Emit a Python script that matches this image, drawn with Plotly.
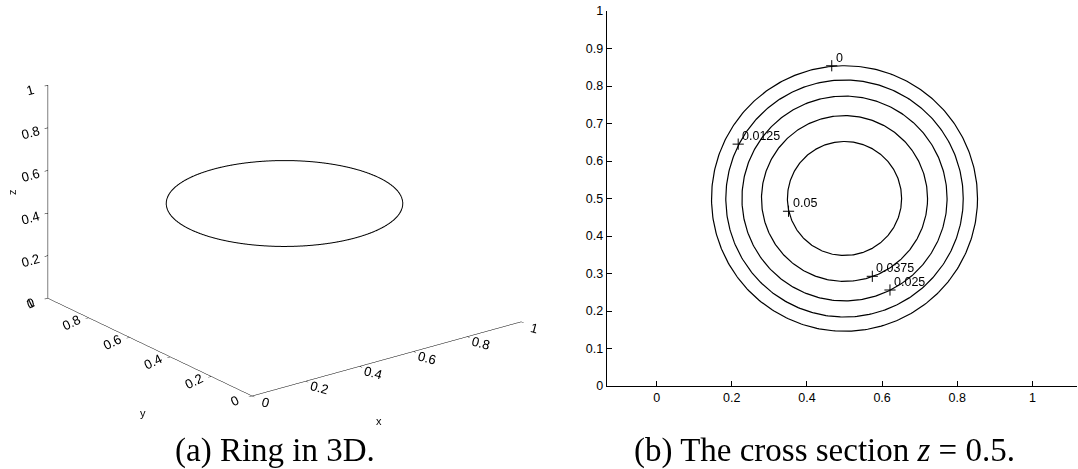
import numpy as np
import plotly.graph_objects as go

W, H = 1078, 469

# ---- data ----
ring_center = [0.5, 0.5, 0.5]
ring_radius = 0.35

contour_levels = [0, 0.0125, 0.025, 0.0375, 0.05]
contour_labels = ["0", "0.0125", "0.025", "0.0375", "0.05"]
contour_radii = [0.354, 0.316, 0.273, 0.221, 0.152]
contour_center = [0.5, 0.5]
label_x = [0.466, 0.217, 0.621, 0.574, 0.351]
label_y = [0.854, 0.645, 0.256, 0.2925, 0.466]

ticks3d = [0, 0.2, 0.4, 0.6, 0.8, 1]
ticks3d_text = ["0", "0.2", "0.4", "0.6", "0.8", "1"]
xticks2d = [0, 0.2, 0.4, 0.6, 0.8, 1]
xticks2d_text = ["0", "0.2", "0.4", "0.6", "0.8", "1"]
yticks2d = [0, 0.1, 0.2, 0.3, 0.4, 0.5, 0.6, 0.7, 0.8, 0.9, 1]
yticks2d_text = ["0", "0.1", "0.2", "0.3", "0.4", "0.5", "0.6", "0.7", "0.8", "0.9", "1"]

caption_a = "(a) Ring in 3D."
caption_b = "(b) The cross section <i>z</i> = 0.5."

FONT = "Liberation Sans, Arial, sans-serif"
SERIF = "Liberation Serif, Times New Roman, serif"
TS = 12.5

fig = go.Figure()

# ---- left: ring in 3D ----
t = np.linspace(0, 2 * np.pi, 361)
fig.add_trace(go.Scatter3d(
    x=ring_center[0] + ring_radius * np.cos(t),
    y=ring_center[1] + ring_radius * np.sin(t),
    z=np.full_like(t, ring_center[2]),
    mode="lines", line=dict(color="black", width=2),
    showlegend=False, hoverinfo="skip", scene="scene"))

# ---- right: contours ----
for lev, r in zip(contour_levels, contour_radii):
    fig.add_trace(go.Scatter(
        x=contour_center[0] + r * np.cos(t),
        y=contour_center[1] + r * np.sin(t),
        mode="lines", line=dict(color="black", width=1.2),
        showlegend=False, hoverinfo="skip", xaxis="x", yaxis="y"))

fig.add_trace(go.Scatter(
    x=label_x, y=label_y, mode="markers",
    marker=dict(symbol="cross-thin", size=8, color="black",
                line=dict(color="black", width=1)),
    showlegend=False, hoverinfo="skip", xaxis="x", yaxis="y"))

label_annotations = [
    dict(text=txt, x=lx, y=ly, xref="x", yref="y", xanchor="left", yanchor="bottom",
         xshift=2, yshift=-1, showarrow=False,
         font=dict(family=FONT, size=TS, color="black"))
    for txt, lx, ly in zip(contour_labels, label_x, label_y)
]

# 3D axis titles (placed in the page, beside the projected axes)
title_annotations = [
    dict(text="x", x=379 / W, y=1 - 421 / H, xref="paper", yref="paper",
         xanchor="center", yanchor="middle", showarrow=False,
         font=dict(family=FONT, size=11, color="black")),
    dict(text="y", x=143 / W, y=1 - 413 / H, xref="paper", yref="paper",
         xanchor="center", yanchor="middle", showarrow=False,
         font=dict(family=FONT, size=11, color="black")),
    dict(text="z", x=12 / W, y=1 - 192 / H, xref="paper", yref="paper", textangle=-90,
         xanchor="center", yanchor="middle", showarrow=False,
         font=dict(family=FONT, size=11, color="black")),
]

# camera
beta = np.deg2rad(37.2)
phi = np.deg2rad(21.3)
eye_dir = np.array([-np.sin(beta) * np.cos(phi), -np.cos(beta) * np.cos(phi), np.sin(phi)])
eye = 1.5 * eye_dir
S = 1.66

ax3 = dict(range=[0, 1], tickvals=ticks3d, ticktext=ticks3d_text,
           showgrid=False, showbackground=False, zeroline=False,
           showline=True, linecolor="black", linewidth=1,
           ticks="outside", ticklen=4, tickcolor="black",
           showspikes=False, title=dict(text=""),
           tickfont=dict(family=FONT, size=TS, color="black"))

fig.update_layout(
    width=W, height=H, margin=dict(l=0, r=0, t=0, b=0, autoexpand=False),
    paper_bgcolor="white", plot_bgcolor="white",
    font=dict(family=FONT, color="black"),
    scene=dict(
        domain=dict(x=[0, 569.2 / W], y=[1 - 406.8 / H, 1]),
        xaxis=dict(ax3, tickangle=15),
        yaxis=dict(ax3, tickangle=-26),
        zaxis=dict(ax3),
        aspectmode="manual", aspectratio=dict(x=S, y=S, z=0.677 * S),
        camera=dict(eye=dict(x=eye[0], y=eye[1], z=eye[2]),
                    up=dict(x=0, y=0, z=1), center=dict(x=0, y=0, z=0),
                    projection=dict(type="orthographic")),
        bgcolor="white"),
    xaxis=dict(domain=[606.7 / W, 1076.7 / W], range=[-0.133, 1.118],
               tickvals=xticks2d, ticktext=xticks2d_text,
               showgrid=False, zeroline=False, showline=True, linecolor="black",
               linewidth=1, ticks="inside", ticklen=5, tickcolor="black",
               tickfont=dict(family=FONT, size=TS, color="black"), anchor="y"),
    yaxis=dict(domain=[1 - 386 / H, 1 - 11 / H], range=[0, 1],
               tickvals=yticks2d, ticktext=yticks2d_text,
               showgrid=False, zeroline=False, showline=True, linecolor="black",
               linewidth=1, ticks="inside", ticklen=5, tickcolor="black",
               tickfont=dict(family=FONT, size=TS, color="black"), anchor="x"),
    annotations=label_annotations + title_annotations + [
        dict(text=caption_a, x=275 / W, y=1 - 450 / H, xref="paper", yref="paper",
             xanchor="center", yanchor="middle", showarrow=False,
             font=dict(family=SERIF, size=33, color="black")),
        dict(text=caption_b, x=824.5 / W, y=1 - 450 / H, xref="paper", yref="paper",
             xanchor="center", yanchor="middle", showarrow=False,
             font=dict(family=SERIF, size=33, color="black")),
    ],
)

fig.write_html("out.html", config=dict(displayModeBar=False))
